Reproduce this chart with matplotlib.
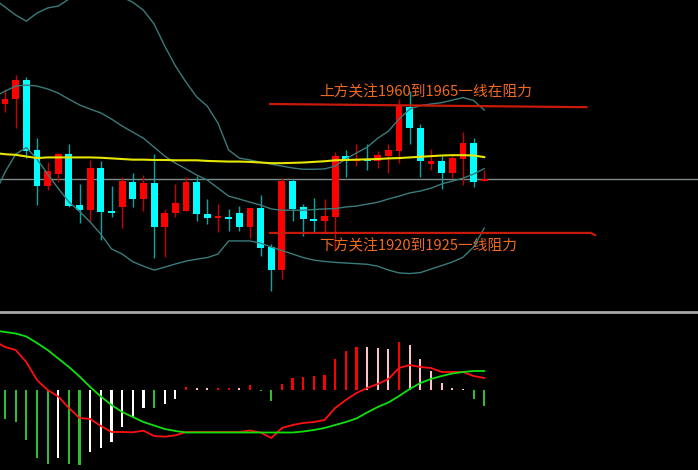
import matplotlib
matplotlib.use("Agg")
import matplotlib.pyplot as plt
import numpy as np

plt.rcParams['font.family'] = ['Noto Sans CJK SC', 'DejaVu Sans']

# candles (open, high, low, close)
opens = [1963.0, 1964.5, 1970.5, 1948.6, 1937.3, 1941.1, 1947.3, 1931.4, 1929.8, 1943.0,
         1929.5, 1930.8, 1938.6, 1933.3, 1938.3, 1924.5, 1928.9, 1929.5, 1938.6, 1928.6,
         1927.3, 1927.7, 1928.9, 1924.5, 1930.5, 1918.3, 1911.1, 1938.9, 1930.8, 1927.0,
         1926.4, 1927.7, 1946.7, 1945.2, 1945.8, 1945.2, 1946.7, 1948.3, 1962.0, 1955.5,
         1944.2, 1945.2, 1941.4, 1945.8, 1950.8, 1938.9]
highs = [1967.7, 1972.0, 1971.4, 1952.3, 1944.8, 1947.7, 1950.5, 1938.0, 1945.5, 1945.2,
         1937.3, 1940.2, 1941.4, 1940.8, 1947.3, 1930.2, 1938.0, 1940.2, 1940.5, 1933.3,
         1931.7, 1930.2, 1931.1, 1930.5, 1934.5, 1919.2, 1939.8, 1939.5, 1931.7, 1933.6,
         1933.3, 1948.0, 1948.6, 1950.5, 1950.5, 1948.3, 1950.5, 1964.5, 1967.0, 1956.7,
         1948.9, 1946.7, 1946.7, 1954.2, 1952.3, 1942.3]
lows = [1960.5, 1955.5, 1946.1, 1931.4, 1936.1, 1938.6, 1930.8, 1925.8, 1926.1, 1920.5,
        1927.7, 1924.2, 1930.8, 1929.5, 1914.8, 1915.2, 1927.7, 1929.5, 1926.4, 1925.5,
        1923.0, 1923.3, 1923.3, 1921.1, 1915.5, 1904.5, 1908.3, 1926.4, 1921.7, 1923.0,
        1923.0, 1917.3, 1940.2, 1943.6, 1942.3, 1943.0, 1941.4, 1944.5, 1950.5, 1940.2,
        1942.3, 1936.4, 1939.8, 1937.7, 1937.0, 1938.9]
closes = [1964.5, 1970.5, 1948.3, 1937.3, 1942.0, 1947.3, 1931.1, 1929.8, 1943.0, 1929.2,
          1928.9, 1938.9, 1933.3, 1938.3, 1924.5, 1928.9, 1932.0, 1938.6, 1928.6, 1927.3,
          1928.0, 1927.0, 1924.5, 1930.5, 1918.0, 1911.1, 1938.9, 1930.2, 1927.0, 1926.4,
          1928.0, 1946.7, 1945.2, 1945.8, 1945.2, 1947.0, 1948.6, 1962.3, 1955.5, 1945.2,
          1945.2, 1941.4, 1946.1, 1950.8, 1938.6, 1939.5]

# lines start one bar before the first visible candle
boll_mid = [1965.2, 1967.0, 1968.6, 1968.9, 1968.6, 1967.7, 1966.4, 1964.5, 1962.7, 1961.4,
            1960.2, 1958.3, 1956.1, 1954.2, 1952.3, 1949.5, 1946.7, 1944.5, 1942.7, 1940.8,
            1939.2, 1936.7, 1934.2, 1933.3, 1932.3, 1931.4, 1930.2, 1929.8, 1929.8, 1929.8,
            1930.0, 1930.2, 1930.3, 1930.8, 1931.1, 1931.7, 1932.3, 1933.3, 1934.2, 1935.2,
            1935.8, 1936.7, 1938.0, 1938.9, 1939.8, 1941.1, 1942.8]
boll_up = [1995.8, 1993.3, 1990.8, 1988.9, 1991.4, 1993.0, 1993.6, 1995.8, 1996.1, 1996.7,
           1997.7, 1998.6, 1996.4, 1994.8, 1992.3, 1988.0, 1981.1, 1974.9, 1969.8, 1965.2,
           1962.3, 1957.0, 1948.6, 1946.1, 1945.5, 1944.8, 1944.2, 1943.6, 1943.0, 1942.6,
           1942.6, 1942.7, 1943.6, 1945.8, 1947.7, 1949.5, 1952.3, 1954.5, 1958.3, 1961.4,
           1962.5, 1963.0, 1963.4, 1964.2, 1965.0, 1964.1, 1961.1]
boll_low = [1934.5, 1941.7, 1947.3, 1949.4, 1945.8, 1941.1, 1936.6, 1932.4, 1929.4, 1926.1,
            1922.3, 1917.7, 1916.1, 1913.7, 1912.3, 1911.1, 1912.0, 1913.0, 1913.9, 1914.5,
            1915.0, 1916.1, 1920.2, 1920.2, 1920.2, 1919.5, 1918.3, 1917.2, 1916.1, 1915.0,
            1914.2, 1913.8, 1913.5, 1913.3, 1913.1, 1912.9, 1912.3, 1911.1, 1910.2, 1910.0,
            1910.3, 1911.4, 1912.5, 1913.6, 1915.1, 1918.3, 1924.2]
ma_yellow = [1947.7, 1947.3, 1947.1, 1946.6, 1946.1, 1946.3, 1946.3, 1946.3, 1946.3, 1946.3,
             1946.2, 1946.0, 1945.8, 1945.6, 1945.6, 1945.5, 1945.5, 1945.4, 1945.4, 1945.4,
             1945.2, 1945.1, 1945.0, 1945.0, 1944.9, 1944.7, 1944.5, 1944.5, 1944.6, 1944.7,
             1944.9, 1945.1, 1945.4, 1945.5, 1945.6, 1945.7, 1945.8, 1946.0, 1946.1, 1946.3,
             1946.5, 1946.7, 1946.9, 1947.0, 1947.0, 1946.9, 1946.4]
last_price = 1939.5

# annotation levels
up_line_x = [24.9, 54.6]
up_line_y = [1963.0, 1962.0]
down_line_x = [24.9, 55.0, 55.4]
down_line_y = [1922.7, 1922.7, 1922.0]
up_text = "上方关注1960到1965一线在阻力"
down_text = "下方关注1920到1925一线阻力"

# MACD
macd_hist = [-2.9, -3.2, -5.0, -6.8, -7.4, -6.8, -7.4, -7.5, -6.2, -5.8,
             -5.2, -3.7, -2.7, -1.8, -1.85, -1.4, -0.9, 0.25, 0.2, 0.15,
             0.18, 0.2, 0.15, 0.47, -0.15, -1.1, 0.6, 1.2, 1.3, 1.4,
             1.5, 3.1, 3.9, 4.33, 4.27, 4.2, 4.1, 4.8, 4.5, 3.1,
             1.9, 0.7, 0.2, 0.1, -0.9, -1.6]
dif = [4.9, 4.3, 4.0, 2.8, 1.0, 0.0, -0.65, -1.8, -2.8, -2.9,
       -3.6, -4.2, -4.2, -4.23, -4.07, -4.6, -4.67, -4.53, -4.2, -4.2,
       -4.2, -4.2, -4.2, -4.2, -4.05, -4.25, -4.8, -3.8, -3.5, -3.3,
       -3.2, -3.0, -1.8, -1.0, -0.3, 0.2, 0.6, 1.1, 2.2, 2.5,
       2.3, 2.2, 1.8, 1.8, 1.8, 1.4, 1.2]
dea = [5.95, 5.8, 5.65, 5.35, 4.7, 4.0, 3.15, 2.3, 1.35, 0.3,
       -0.65, -1.5, -2.2, -2.7, -3.2, -3.55, -3.9, -4.1, -4.25, -4.25,
       -4.25, -4.25, -4.25, -4.25, -4.25, -4.25, -4.25, -4.25, -4.25, -4.15,
       -4.0, -3.8, -3.5, -3.2, -2.85, -2.25, -1.7, -1.25, -0.6, 0.1,
       0.7, 1.1, 1.4, 1.65, 1.8, 1.9, 1.9]

n = len(closes)
x = np.arange(n)
x_line = np.arange(-1, n)

fig = plt.figure(figsize=(6.98, 4.70), dpi=100, facecolor='black')
ax = fig.add_axes([0, 0.3383, 1, 0.6617])
ax2 = fig.add_axes([0, 0, 1, 0.3362])

for a in (ax, ax2):
    a.set_facecolor('black')
    a.set_xticks([])
    a.set_yticks([])
    for s in a.spines.values():
        s.set_visible(False)
    a.set_xlim(-0.47, 65.07)

ax.set_ylim(1898.3, 1995.5)

o = np.array(opens)
c = np.array(closes)
up = c >= o
body_col = np.where(up, '#ff0000', '#00ffff')
wick_col = np.where(up, '#c80000', '#00a8a8')

ax.vlines(x, lows, highs, colors=wick_col, linewidth=1, zorder=2)
ax.bar(x, np.abs(c - o), bottom=np.minimum(o, c), width=0.64, color=body_col,
       linewidth=0, zorder=3)

ax.axhline(last_price, color='#7f8c8c', linewidth=1, zorder=1)

band_col = '#3b7b7b'
ax.plot(x_line, boll_up, color=band_col, linewidth=1, zorder=4)
ax.plot(x_line, boll_mid, color=band_col, linewidth=1, zorder=4)
ax.plot(x_line, boll_low, color=band_col, linewidth=1, zorder=4)
ax.plot(x_line, ma_yellow, color='#e6e600', linewidth=1.5, zorder=5)

ax.plot(up_line_x, up_line_y, color='#c81a0a', linewidth=1.6, zorder=6)
ax.plot(down_line_x, down_line_y, color='#c81a0a', linewidth=1.6, zorder=6)
ax.text(29.5, 1966.6, up_text, color='#f06a1e', fontsize=10.6, ha='left', va='center')
ax.text(29.5, 1918.6, down_text, color='#f06a1e', fontsize=10.6, ha='left', va='center')

# MACD panel
h = np.array(macd_hist)
prev = np.concatenate([[0.0], h[:-1]])
hist_col = []
for v, p in zip(h, prev):
    if v >= 0:
        hist_col.append('#ff0000' if v > p else '#ffc0cb')
    else:
        hist_col.append('#2ebd2e' if v < p else '#ffffff')
ax2.bar(x, h, width=0.2, color=hist_col, linewidth=0)
ax2.plot(x_line, dif, color='#ff1010', linewidth=1.3)
ax2.plot(x_line, dea, color='#10e010', linewidth=1.3)
ax2.set_ylim(-8.0, 7.8)
ax2.spines['top'].set_visible(True)
ax2.spines['top'].set_color('#a8a8a8')
ax2.spines['top'].set_linewidth(2)

fig.savefig('out.png', dpi=100, facecolor='black')
